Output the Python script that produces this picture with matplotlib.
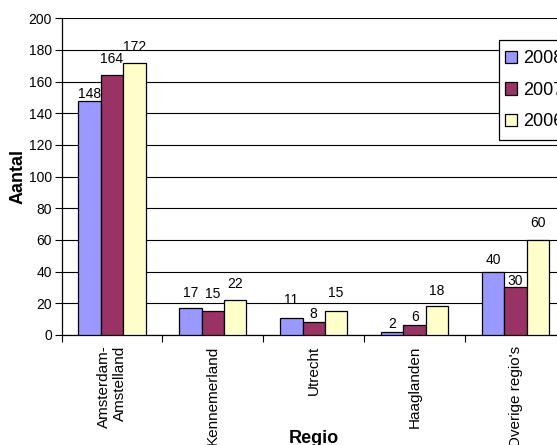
import matplotlib
matplotlib.use("Agg")
import matplotlib.pyplot as plt
import numpy as np
from matplotlib.patches import Rectangle

plt.rcParams["font.family"] = ["Liberation Sans", "DejaVu Sans"]

# data
regios = ["Amsterdam-\nAmstelland", "Kennemerland", "Utrecht", "Haaglanden", "Overige regio's"]
jaren = ["2008", "2007", "2006"]
v2008 = [148, 17, 11, 2, 40]
v2007 = [164, 15, 8, 6, 30]
v2006 = [172, 22, 15, 18, 60]

kleuren = ["#9999FF", "#993366", "#FFFFCC"]
# afstand label -> bovenkant balk (pixels), zoals in het origineel
label_gap = [[3, 11, 14, 4, 8], [12, 13, 4, 4, 2], [12, 12, 14, 11, 13]]

fig = plt.figure(figsize=(5.57, 4.45), dpi=100)
W, H = 557, 445
ax = fig.add_axes([61.5 / W, 1 - 335 / H, (566 - 61.5) / W, (335 - 18.3) / H])

x = np.arange(len(regios)) + 0.5
w = 1 / 4.5

for i, (vals, kleur, jaar) in enumerate(zip([v2008, v2007, v2006], kleuren, jaren)):
    pos = x + (i - 1) * w
    ax.bar(pos, vals, width=w, color=kleur, edgecolor="black", linewidth=0.9,
           label=jaar, zorder=3)
    for p, v, g in zip(pos, vals, label_gap[i]):
        ax.annotate(str(v), (p, v), xytext=(0, g), textcoords="offset pixels",
                    ha="center", va="baseline", fontsize=10, zorder=4)

ax.set_xlim(0, 5)
ax.set_ylim(0, 200)
ax.set_yticks(range(0, 201, 20))
ax.yaxis.grid(True, color="black", linewidth=0.8, zorder=0)
ax.set_axisbelow(True)

ax.set_xticks(np.arange(0, 6))
ax.set_xticklabels([])
ax.set_xticks(x, minor=True)
ax.set_xticklabels(regios, minor=True, rotation=90, ha="center", va="top",
                   ma="right", fontsize=11)
ax.tick_params(axis="x", which="major", length=5, width=0.8, direction="out")
ax.tick_params(axis="x", which="minor", length=0, pad=7.5)
ax.tick_params(axis="y", length=5, width=0.8, pad=2, labelsize=10)

for s in ["top", "right"]:
    ax.spines[s].set_visible(False)
for s in ["left", "bottom"]:
    ax.spines[s].set_linewidth(0.9)
    ax.spines[s].set_color("black")

ax.set_ylabel("Aantal", fontsize=13, fontweight="bold", va="center")
ax.yaxis.set_label_coords((18 - 61.5) / (566 - 61.5), 0.5)
ax.set_xlabel("Regio", fontsize=13, fontweight="bold", va="baseline")
ax.xaxis.set_label_coords(0.5, -(443 - 335) / (335 - 18.3))

# legendakader apart getekend (loopt buiten de rand door)
kader = Rectangle((499 / W, 1 - 140 / H), 0.3, 100 / H, transform=fig.transFigure,
                  facecolor="white", edgecolor="black", linewidth=0.9, zorder=4)
fig.patches.append(kader)

leg = fig.legend(loc="upper left", bbox_to_anchor=(499 / W, 1 - 44.5 / H),
                 fontsize=13, frameon=False, borderaxespad=0,
                 handlelength=0.67, handleheight=0.67, handletextpad=0.33,
                 labelspacing=0.8, borderpad=0.33)
leg.set_zorder(5)

fig.savefig("out.png", dpi=100)
